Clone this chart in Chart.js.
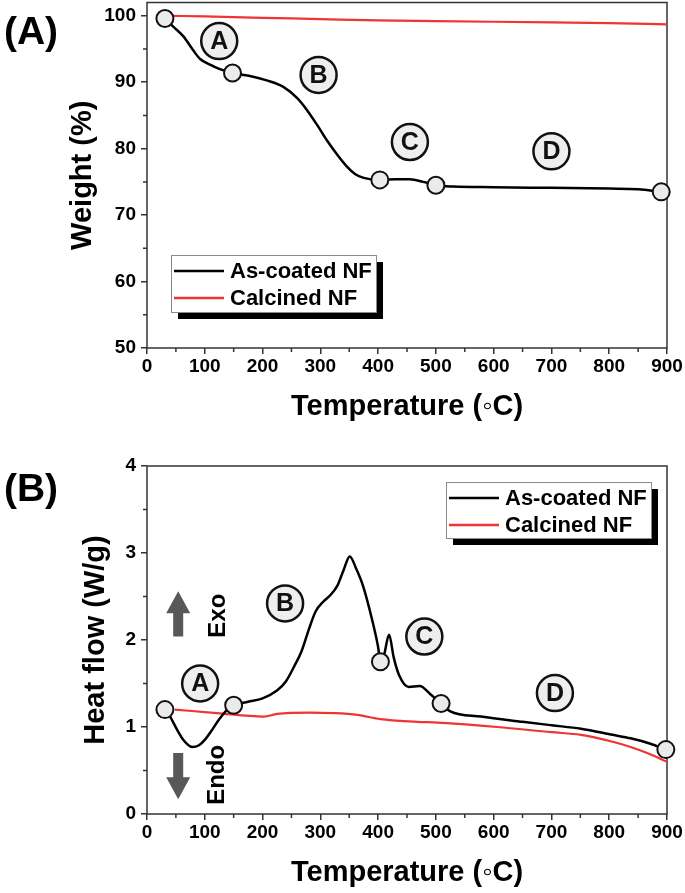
<!DOCTYPE html>
<html>
<head>
<meta charset="utf-8">
<script src="https://cdn.jsdelivr.net/npm/chart.js@4.4.1/dist/chart.umd.min.js"></script>
<style>
  html, body { margin: 0; padding: 0; background: #fff; }
  #wrap { position: relative; width: 685px; height: 893px; overflow: hidden; }
  canvas { position: absolute; left: 0; }
  #tga { top: -8px; }
  #dsc { top: 440px; }
</style>
</head>
<body>
<div id="wrap">
  <canvas id="tga" width="685" height="448"></canvas>
  <canvas id="dsc" width="685" height="453"></canvas>
</div>
<script>
// ---- data: panel (A) TGA ----
const tgaTemp = [31, 45, 63, 80, 92, 110, 125, 148, 180, 210, 236, 260, 277, 295, 311, 330, 346, 360, 375, 403, 430, 455, 478, 500, 530, 600, 700, 800, 850, 890];
const tgaCoated = [99.6, 98.4, 96.9, 94.8, 93.5, 92.6, 92.0, 91.4, 90.9, 90.2, 89.3, 87.6, 85.8, 83.5, 81.3, 79.0, 77.3, 76.2, 75.6, 75.3, 75.4, 75.4, 75.0, 74.5, 74.3, 74.2, 74.1, 74.0, 73.9, 73.5];
const tgaCalTemp = [40, 100, 200, 300, 400, 500, 600, 700, 800, 900];
const tgaCalcined = [100.0, 99.9, 99.7, 99.5, 99.3, 99.2, 99.1, 99.0, 98.9, 98.7];
const tgaMarkTemp = [31, 148, 403, 500, 890];
const tgaMarkVal = [99.6, 91.4, 75.3, 74.5, 73.5];

// ---- data: panel (B) DSC ----
const dscTemp = [31, 40, 52, 63, 78, 90, 101, 113, 124, 139, 150, 175, 200, 225, 240, 255, 268, 280, 292, 305, 318, 330, 340, 351, 362, 374, 389, 400, 404, 410, 419, 427, 436, 453, 472, 490, 509, 525, 578, 650, 700, 751, 806, 837, 870, 898];
const dscCoated = [1.20, 1.12, 0.97, 0.85, 0.77, 0.79, 0.86, 0.97, 1.08, 1.20, 1.25, 1.29, 1.33, 1.42, 1.52, 1.70, 1.88, 2.12, 2.33, 2.44, 2.52, 2.63, 2.80, 2.96, 2.82, 2.62, 2.25, 1.92, 1.75, 1.82, 2.06, 1.80, 1.60, 1.46, 1.47, 1.38, 1.27, 1.18, 1.12, 1.06, 1.02, 0.98, 0.91, 0.87, 0.81, 0.74];
const dscCalTemp = [48, 121, 202, 225, 283, 320, 364, 404, 468, 503, 606, 700, 751, 806, 837, 870, 900];
const dscCalcined = [1.20, 1.16, 1.12, 1.15, 1.165, 1.16, 1.14, 1.09, 1.06, 1.05, 1.00, 0.94, 0.91, 0.83, 0.77, 0.69, 0.60];
const dscMarkTemp = [31, 150, 404, 509, 898];
const dscMarkVal = [1.20, 1.25, 1.75, 1.27, 0.74];

const seriesNames = ['As-coated NF', 'Calcined NF'];
const stageLetters = ['A', 'B', 'C', 'D'];
const tempTicks = { min: 0, max: 900, step: 100, minor: 50 };

const FONT = '"Liberation Sans", Arial, sans-serif';

function pts(xs, ys) {
  return xs.map((x, i) => ({ x: x, y: ys[i] }));
}

// frame, minor ticks, circled letters, legend with shadow, arrows
const decoPlugin = {
  id: 'deco',
  beforeDatasetsDraw(chart, args, o) {
    const ctx = chart.ctx, a = chart.chartArea;
    const sx = chart.scales.x, sy = chart.scales.y;
    ctx.save();
    ctx.strokeStyle = '#333';
    ctx.lineWidth = 1.5;
    ctx.strokeRect(a.left, a.top, a.right - a.left, a.bottom - a.top);
    // minor ticks
    ctx.beginPath();
    for (let v = sx.min + o.minorX; v < sx.max; v += o.minorX * 2) {
      const px = sx.getPixelForValue(v);
      ctx.moveTo(px, a.bottom); ctx.lineTo(px, a.bottom + 4);
    }
    for (let v = sy.min + o.minorY; v < sy.max; v += o.minorY * 2) {
      const py = sy.getPixelForValue(v);
      ctx.moveTo(a.left, py); ctx.lineTo(a.left - 4, py);
    }
    ctx.stroke();
    // exo / endo arrows
    (o.arrows || []).forEach(ar => {
      const x = sx.getPixelForValue(ar.x);
      const y0 = sy.getPixelForValue(ar.from), y1 = sy.getPixelForValue(ar.to);
      const dir = y1 < y0 ? -1 : 1;
      const head = 22;
      ctx.fillStyle = '#585858';
      ctx.beginPath();
      ctx.moveTo(x, y1);
      ctx.lineTo(x + 12, y1 - dir * head);
      ctx.lineTo(x + 5, y1 - dir * head);
      ctx.lineTo(x + 5, y0);
      ctx.lineTo(x - 5, y0);
      ctx.lineTo(x - 5, y1 - dir * head);
      ctx.lineTo(x - 12, y1 - dir * head);
      ctx.closePath();
      ctx.fill();
      ctx.save();
      ctx.translate(sx.getPixelForValue(ar.lx), sy.getPixelForValue(ar.ly));
      ctx.rotate(-Math.PI / 2);
      ctx.fillStyle = '#000';
      ctx.font = 'bold 24px ' + FONT;
      ctx.textAlign = 'center';
      ctx.textBaseline = 'middle';
      ctx.fillText(ar.text, 0, 0);
      ctx.restore();
    });
    ctx.restore();
  },
  afterDatasetsDraw(chart, args, o) {
    const ctx = chart.ctx;
    const sx = chart.scales.x, sy = chart.scales.y;
    ctx.save();
    // circled stage letters
    o.letters.forEach((l, i) => {
      const x = sx.getPixelForValue(l[0]), y = sy.getPixelForValue(l[1]);
      ctx.beginPath();
      ctx.arc(x, y, 18, 0, Math.PI * 2);
      ctx.fillStyle = '#eeeeee';
      ctx.fill();
      ctx.lineWidth = 2.5;
      ctx.strokeStyle = '#111';
      ctx.stroke();
      ctx.fillStyle = '#111';
      ctx.font = 'bold 25px ' + FONT;
      ctx.textAlign = 'center';
      ctx.textBaseline = 'middle';
      ctx.fillText(stageLetters[i], x, y + 1);
    });
    // legend box with black drop shadow
    const L = o.legend;
    ctx.fillStyle = '#000';
    ctx.fillRect(L.left + 7, L.top + 7, L.width, L.height);
    ctx.fillStyle = '#fff';
    ctx.fillRect(L.left, L.top, L.width, L.height);
    ctx.strokeStyle = '#8a8a8a';
    ctx.lineWidth = 1;
    ctx.strokeRect(L.left + 0.5, L.top + 0.5, L.width, L.height);
    chart.data.datasets.slice(0, 2).forEach((ds, i) => {
      const y = L.top + 16 + i * 27;
      ctx.beginPath();
      ctx.moveTo(L.left + 3, y);
      ctx.lineTo(L.left + 53, y);
      ctx.strokeStyle = ds.borderColor;
      ctx.lineWidth = 2.5;
      ctx.stroke();
      ctx.fillStyle = '#000';
      ctx.font = 'bold 22px ' + FONT;
      ctx.textAlign = 'left';
      ctx.textBaseline = 'middle';
      ctx.fillText(ds.label, L.left + 59, y + 1);
    });
    // panel label
    ctx.font = 'bold 39px ' + FONT;
    ctx.fillStyle = '#000';
    ctx.textAlign = 'center';
    ctx.textBaseline = 'middle';
    ctx.fillText(o.panel, 31, o.panelY);
    ctx.restore();
  }
};

function makeScales(c) {
  const tickFont = { family: FONT, size: 19, weight: 'bold' };
  const grid = { drawOnChartArea: false, drawTicks: true, tickLength: 6, color: '#333', lineWidth: 1.5 };
  return {
    x: {
      type: 'linear', min: tempTicks.min, max: tempTicks.max,
      ticks: { stepSize: tempTicks.step, includeBounds: false, padding: 1, color: '#000', font: tickFont },
      grid: grid, border: { display: false },
      title: { display: true, text: 'Temperature (\u25E6C)', color: '#000',
               font: { family: FONT, size: 29, weight: 'bold' }, padding: { top: 0, bottom: c.xTitlePad } },
      afterFit(s) { s.height = c.xHeight; }
    },
    y: {
      type: 'linear', min: c.yMin, max: c.yMax,
      ticks: { stepSize: c.yStep, includeBounds: false, padding: 5, color: '#000', font: tickFont },
      grid: grid, border: { display: false },
      title: { display: true, text: c.yTitle, color: '#000',
               font: { family: FONT, size: 29, weight: 'bold' }, padding: { top: c.yTitlePad, bottom: 0 } },
      afterFit(s) { s.width = 147; s.paddingTop = 0; s.paddingBottom = 0; }
    }
  };
}

function makeDatasets(coated, calcined, marks) {
  return [
    { label: seriesNames[0], data: coated, borderColor: '#000', borderWidth: 2.5,
      pointRadius: 0, cubicInterpolationMode: 'monotone', order: 1 },
    { label: seriesNames[1], data: calcined, borderColor: '#f03333', borderWidth: 2.2,
      pointRadius: 0, cubicInterpolationMode: 'monotone', order: 2 },
    { label: 'markers', data: marks, showLine: false, pointRadius: 8.5,
      pointBackgroundColor: '#ebebeb', pointBorderColor: '#111', pointBorderWidth: 2,
      clip: false, order: 0 }
  ];
}

const common = {
  responsive: false, animation: false, devicePixelRatio: 1,
  events: []
};

new Chart(document.getElementById('tga'), {
  type: 'line',
  data: { datasets: makeDatasets(pts(tgaTemp, tgaCoated), pts(tgaCalTemp, tgaCalcined), pts(tgaMarkTemp, tgaMarkVal)) },
  options: Object.assign({}, common, {
    layout: { padding: { top: 2, right: 18, left: 0, bottom: 0 } },
    scales: makeScales({ xTitlePad: 15.6, xHeight: 92, yMin: 50, yMax: 102, yStep: 10, yTitle: 'Weight (%)', yTitlePad: 65.6 }),
    plugins: {
      legend: { display: false }, tooltip: { enabled: false },
      deco: {
        minorX: tempTicks.minor, minorY: 5,
        letters: [[125, 96.2], [297, 91.1], [455, 81.0], [700, 79.6]],
        legend: { left: 171, top: 263, width: 205, height: 57 },
        panel: '(A)', panelY: 41
      }
    }
  }),
  plugins: [decoPlugin]
});

new Chart(document.getElementById('dsc'), {
  type: 'line',
  data: { datasets: makeDatasets(pts(dscTemp, dscCoated), pts(dscCalTemp, dscCalcined), pts(dscMarkTemp, dscMarkVal)) },
  options: Object.assign({}, common, {
    layout: { padding: { top: 26, right: 18, left: 0, bottom: 0 } },
    scales: makeScales({ xTitlePad: 2.6, xHeight: 79, yMin: 0, yMax: 4, yStep: 1, yTitle: 'Heat flow (W/g)', yTitlePad: 78.6 }),
    plugins: {
      legend: { display: false }, tooltip: { enabled: false },
      deco: {
        minorX: tempTicks.minor, minorY: 0.5,
        letters: [[92, 1.50], [239, 2.42], [480, 2.04], [706, 1.39]],
        legend: { left: 446, top: 42, width: 205, height: 56 },
        arrows: [
          { x: 54, from: 2.04, to: 2.56, text: 'Exo', lx: 123, ly: 2.28 },
          { x: 54, from: 0.70, to: 0.17, text: 'Endo', lx: 121, ly: 0.45 }
        ],
        panel: '(B)', panelY: 50
      }
    }
  }),
  plugins: [decoPlugin]
});
</script>
</body>
</html>
